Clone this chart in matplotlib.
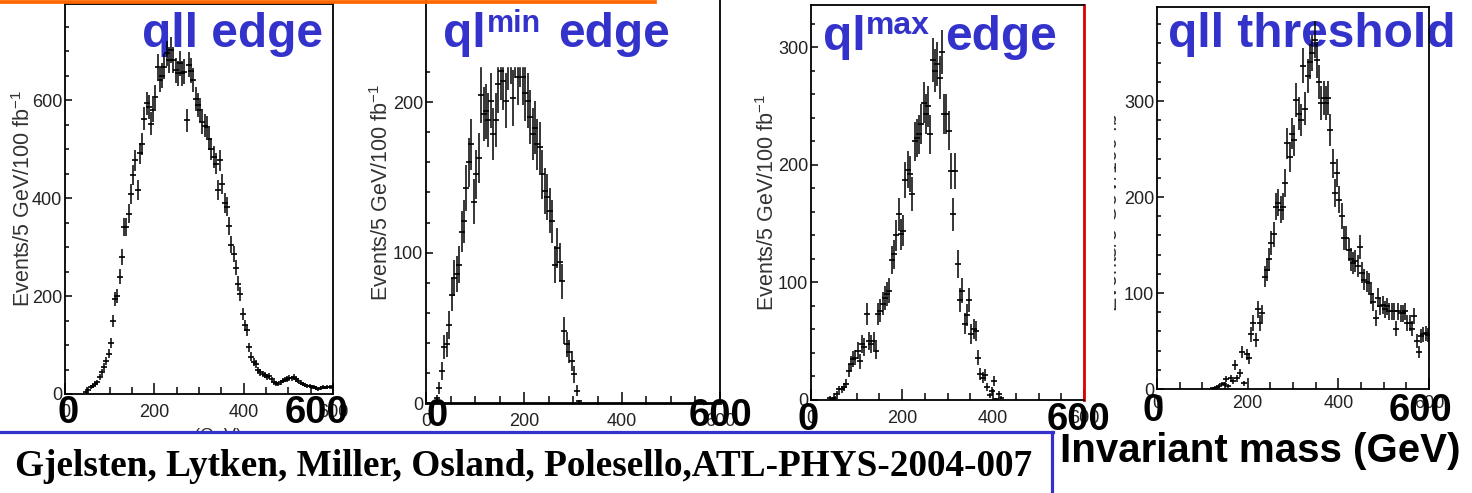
import matplotlib.pyplot as plt
import numpy as np
from matplotlib.ticker import MultipleLocator, FixedLocator
from matplotlib.lines import Line2D
from matplotlib.patches import Rectangle

W, H = 1472, 493

plt.rcParams['font.family'] = ['Liberation Sans Narrow', 'Liberation Sans', 'DejaVu Sans']
plt.rcParams['mathtext.fontset'] = 'custom'
plt.rcParams['mathtext.rm'] = 'Liberation Sans'

# centres des bins de 5 GeV
masse = np.arange(2.5, 600, 5)

# événements / 5 GeV / 100 fb-1 pour chaque distribution
qll_edge = np.array([
    0, 0, 0, 0, 0, 0, 0, 0, 0, 4,
    9, 14, 17, 20, 24, 34, 44, 55, 68, 82,
    105, 150, 194, 200, 239, 280, 341, 341, 368, 409,
    447, 477, 416, 491, 511, 562, 593, 586, 552, 580,
    607, 668, 641, 650, 668, 695, 682, 702, 682, 661,
    655, 675, 655, 658, 559, 672, 660, 641, 603, 590,
    580, 555, 548, 545, 520, 500, 484, 470, 416, 477,
    428, 390, 382, 342, 305, 286, 258, 225, 205, 163,
    140, 130, 95, 76, 65, 61, 48, 44, 41, 38,
    34, 37, 30, 24, 22, 20, 24, 27, 29, 31,
    33, 32, 34, 30, 27, 23, 20, 19, 17, 16,
    15, 14, 12, 10, 12, 14, 13, 14, 14, 15])

qlmin_edge = np.array([
    0, 0, 0, 0, 3, 10, 21, 37, 39, 52,
    72, 83, 86, 92, 114, 121, 143, 160, 172, 134,
    152, 163, 205, 192, 194, 188, 201, 179, 188, 212,
    221, 214, 201, 228, 232, 203, 236, 217, 230, 217,
    206, 201, 190, 179, 183, 172, 170, 152, 141, 137,
    128, 121, 92, 103, 94, 81, 48, 39, 34, 28,
    19, 8, 1, 0, 0, 0, 0, 0, 0, 0,
    0, 0, 0, 0, 0, 0, 0, 0, 0, 0,
    0, 0, 0, 0, 0, 0, 0, 0, 0, 0,
    0, 0, 0, 0, 0, 0, 0, 0, 0, 0,
    0, 0, 0, 0, 0, 0, 0, 0, 0, 0,
    0, 0, 0, 0, 0, 0, 0, 0, 0, 0])

qlmax_edge = np.array([
    0, 0, 0, 0, 0, 0, 0, 0, 2, 1,
    2, 5, 9, 9, 11, 14, 25, 31, 35, 36,
    42, 33, 48, 45, 73, 50, 48, 50, 42, 73,
    76, 82, 87, 90, 93, 119, 124, 140, 158, 141,
    144, 187, 196, 192, 175, 220, 223, 226, 235, 253,
    243, 250, 226, 289, 280, 286, 274, 296, 243, 243,
    229, 195, 158, 195, 116, 85, 93, 65, 72, 85,
    56, 60, 59, 36, 22, 19, 21, 11, 4, 8,
    16, 1, 5, 2, 0, 0, 0, 0, 0, 0,
    0, 0, 0, 0, 0, 0, 0, 0, 0, 0,
    0, 0, 0, 0, 0, 0, 0, 0, 0, 0,
    0, 0, 0, 0, 0, 0, 0, 0, 0, 0])

qll_threshold = np.array([
    0, 0, 0, 0, 0, 0, 0, 0, 0, 0,
    0, 0, 0, 0, 0, 0, 0, 0, 0, 0,
    0, 0, 0, 0, 1, 1, 2, 3, 5, 5,
    10, 3, 11, 8, 25, 11, 17, 39, 6, 36,
    32, 57, 69, 51, 83, 69, 79, 117, 124, 135,
    152, 161, 190, 194, 187, 190, 215, 256, 242, 266,
    259, 301, 287, 280, 337, 292, 326, 341, 350, 364,
    343, 320, 298, 303, 298, 303, 270, 235, 204, 225,
    197, 180, 157, 157, 145, 135, 131, 133, 128, 148,
    121, 114, 112, 110, 99, 91, 74, 95, 86, 88,
    83, 86, 81, 81, 81, 63, 81, 79, 79, 81,
    69, 69, 63, 76, 50, 39, 55, 57, 58, 56])

# titres en morceaux : (texte, x gauche, ligne de base, taille) en pixels
titres = [
    [('qll edge', 142, 47, 34.5)],
    [('ql', 443, 47, 34.5), ('min', 487, 32, 22), ('edge', 558, 47, 34.5)],
    [('ql', 823, 50, 34.5), ('max', 866, 34, 23), ('edge', 945, 50, 34.5)],
    [('qll threshold', 1168, 47, 34.5)],
]
ylabel = 'Events/5 GeV/100 fb$^{-1}$'
xticks = [0, 200, 400, 600]

BLEU = '#3333cc'


def fx(x):
    return x / W


def fy(y):
    return 1 - y / H


def boite(x0, y0, x1, y1):
    return [fx(x0), fy(y1), (x1 - x0) / W, (y1 - y0) / H]


fig = plt.figure(figsize=(W / 100, H / 100), dpi=100)

# (données, cadre en pixels, ymax, pas majeur, pas mineur, facteur erreur,
#  position du label y, pad des ticks x)
panneaux = [
    (qll_edge, (65, 4, 333, 394), 796, 200, 50, 1.0, (24, 198), 7),
    (qlmin_edge, (426, 0, 720, 403), 268, 100, 20, 1.3, (382, 192), 7),
    (qlmax_edge, (811, 5, 1084, 400), 336, 100, 20, 1.1, (768, 202), 7),
    (qll_threshold, (1157, 7, 1429, 389), 398, 100, 20, 1.0, (1112, 203), 4),
]

axes = []
for i, (vals, cadre, ymax, pas, mineur, k, lab, pad) in enumerate(panneaux):
    ax = fig.add_axes(boite(*cadre))
    ok = vals > 0
    ax.errorbar(masse[ok], vals[ok], yerr=k * np.sqrt(vals[ok]), fmt='_',
                color='k', ms=5, mew=1.2, elinewidth=1.1, capsize=0, zorder=2)
    ax.set_xlim(0, 600)
    ax.set_ylim(0, ymax)
    ax.xaxis.set_major_locator(FixedLocator(xticks))
    ax.xaxis.set_minor_locator(MultipleLocator(50))
    ax.yaxis.set_major_locator(MultipleLocator(pas))
    ax.yaxis.set_minor_locator(MultipleLocator(mineur))
    ax.tick_params(which='both', direction='in', top=False, right=False,
                   labelsize=13, labelcolor='#222222', width=1.1)
    ax.tick_params(axis='x', which='major', length=8, pad=pad)
    ax.tick_params(axis='x', which='minor', length=5)
    ax.tick_params(axis='y', which='major', length=5, pad=2)
    ax.tick_params(axis='y', which='minor', length=3)
    for s in ax.spines.values():
        s.set_linewidth(1.3)
    fig.text(fx(lab[0]), fy(lab[1]), ylabel, rotation=90, ha='center', va='center',
             fontsize=15.5, color='#333333', family='Liberation Sans', zorder=1)
    for txt, x, yb, taille in titres[i]:
        ax.text(fx(x), fy(yb), txt, transform=fig.transFigure,
                fontsize=taille, fontweight='bold', color=BLEU, family='Liberation Sans',
                ha='left', va='baseline', zorder=3 if i == 1 else 1, clip_on=False)
    axes.append(ax)

# le haut du deuxième histogramme est masqué par le titre
axes[1].axhspan(224, 268, color='white', zorder=2.2)
axes[1].yaxis.set_minor_locator(FixedLocator(range(0, 221, 20)))
axes[1].spines['top'].set_visible(False)
axes[1].spines['bottom'].set_linewidth(2)

axes[2].spines['right'].set_color('#dd0000')
axes[2].spines['right'].set_linewidth(2)

# label x du premier panneau, en partie caché par le cadre du bas
fig.text(fx(200), fy(427), 'm$_{qll}$ (GeV)', ha='center', va='top',
         fontsize=13, color='#333333', zorder=1)

# label y du dernier panneau coupé à gauche
fig.patches.append(Rectangle((fx(1088), fy(330)), (1114 - 1088) / W, 270 / H,
                             transform=fig.transFigure, facecolor='white',
                             edgecolor='none', zorder=2))

# grands chiffres des bornes de l'axe x
bornes = [(68, 316, 423), (437, 720, 426), (808, 1078, 430), (1153, 1420, 421)]
for x0, x6, yb in bornes:
    for x, txt in ((x0, '0'), (x6, '600')):
        fig.text(fx(x), fy(yb), txt, ha='center', va='baseline', fontsize=27.5,
                 fontweight='bold', family='Liberation Sans', color='black', zorder=5)

# trait orange en haut
fig.lines.append(Line2D([0, fx(655)], [fy(1.8), fy(1.8)], color='#ff6600', lw=2.7,
                        transform=fig.transFigure, zorder=4))

# cadre bleu en bas
fig.patches.append(Rectangle((0, 0), fx(1052), fy(432.5), transform=fig.transFigure,
                             facecolor='white', edgecolor='none', zorder=2))
fig.lines.append(Line2D([0, fx(1053)], [fy(431.5), fy(431.5)], color=BLEU, lw=2.3,
                        transform=fig.transFigure, zorder=3))
fig.lines.append(Line2D([fx(1052), fx(1052)], [fy(431.5), 0], color=BLEU, lw=2.3,
                        transform=fig.transFigure, zorder=3))

fig.text(fx(15), fy(476), 'Gjelsten, Lytken, Miller, Osland, Polesello,ATL-PHYS-2004-007',
         ha='left', va='baseline', fontsize=26.8, fontweight='bold',
         family='Liberation Serif', color='black', zorder=4)
fig.text(fx(1060), fy(462), 'Invariant mass (GeV)', ha='left', va='baseline',
         fontsize=29, fontweight='bold', family='Liberation Sans', color='black', zorder=4)

fig.savefig('out.png', dpi=100)
